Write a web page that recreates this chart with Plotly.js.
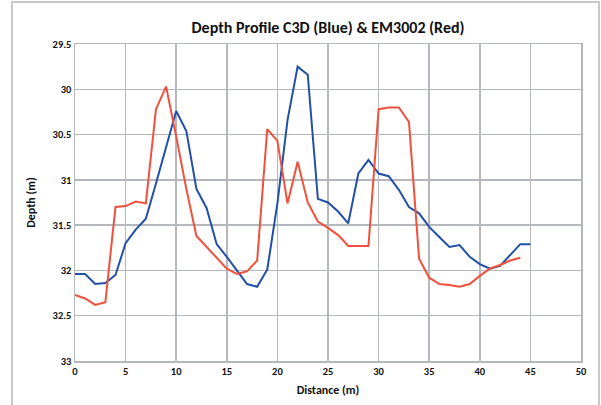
<!DOCTYPE html>
<html>
<head>
<meta charset="utf-8">
<script src="https://cdn.plot.ly/plotly-3.0.1.min.js"></script>
<style>
  html, body { margin: 0; padding: 0; background: #ffffff; }
  #wrap { position: relative; width: 601px; height: 405px; }
  #chart { width: 601px; height: 405px; }
  #frame { position: absolute; left: 11px; top: 1px; width: 589px; height: 410px;
           border: 2px solid #c8c8c8; pointer-events: none; box-sizing: border-box; }
</style>
</head>
<body>
<div id="wrap">
  <div id="chart"></div>
  <div id="frame"></div>
</div>
<script>
// Distance (m) for each sample
const distC3D = [0,1,2,3,4,5,6,7,8,9,10,11,12,13,14,15,16,17,18,19,20,21,22,23,24,25,26,27,28,29,30,31,32,33,34,35,36,37,38,39,40,41,42,43,44,45];
// C3D depth (blue)
const depthC3D = [32.04,32.04,32.15,32.14,32.05,31.70,31.55,31.43,31.04,30.63,30.24,30.46,31.10,31.31,31.71,31.85,32.00,32.15,32.18,31.99,31.26,30.34,29.75,29.84,31.21,31.25,31.35,31.48,30.93,30.78,30.93,30.96,31.11,31.30,31.37,31.52,31.63,31.74,31.72,31.85,31.93,31.98,31.95,31.83,31.71,31.71];

const distEM = [0,1,2,3,4,5,6,7,8,9,10,11,12,13,14,15,16,17,18,19,20,21,22,23,24,25,26,27,28,29,30,31,32,33,34,35,36,37,38,39,40,41,42,43,44];
// EM3002 depth (red)
const depthEM = [32.27,32.31,32.38,32.35,31.30,31.29,31.24,31.26,30.22,29.97,30.52,31.10,31.62,31.74,31.87,31.98,32.04,32.01,31.89,30.44,30.57,31.26,30.80,31.25,31.46,31.53,31.61,31.73,31.73,31.73,30.22,30.20,30.20,30.36,31.87,32.08,32.15,32.16,32.18,32.15,32.06,31.98,31.94,31.89,31.86];

const yTickVals = [29.5,30,30.5,31,31.5,32,32.5,33];
const yTickText = ["29.5","30","30.5","31","31.5","32","32.5","33"];
const xTickVals = [0,5,10,15,20,25,30,35,40,45,50];
const xTickText = ["0","5","10","15","20","25","30","35","40","45","50"];

const font = "Carlito, 'Open Sans', 'Liberation Sans', sans-serif";

const traces = [
  { x: distC3D, y: depthC3D, type: 'scatter', mode: 'lines', name: 'C3D',
    line: { color: '#2150a6', width: 2 } },
  { x: distEM, y: depthEM, type: 'scatter', mode: 'lines', name: 'EM3002',
    line: { color: '#f0503c', width: 2 } }
];

const axisCommon = {
  showgrid: true, gridcolor: '#b4b8bc', gridwidth: 1.5,
  showline: true, linecolor: '#b4b8bc', linewidth: 1.5, mirror: true,
  zeroline: false, ticks: '',
  tickfont: { family: font, size: 10.5, color: '#111', weight: 'bold' }
};

const layout = {
  width: 601, height: 405,
  paper_bgcolor: 'rgba(0,0,0,0)', plot_bgcolor: '#ffffff',
  margin: { l: 75, r: 20, t: 44, b: 44 },
  showlegend: false,
  title: { text: '<b>Depth Profile C3D (Blue) &amp; EM3002 (Red)</b>',
           font: { family: font, size: 16, color: '#111' },
           x: 0.5, xref: 'paper', xanchor: 'center', y: 0.945, yref: 'container' },
  xaxis: Object.assign({}, axisCommon, {
    range: [0, 50], tickvals: xTickVals, ticktext: xTickText,
    title: { text: '<b>Distance (m)</b>', font: { family: font, size: 12, color: '#111' }, standoff: 8 }
  }),
  yaxis: Object.assign({}, axisCommon, {
    range: [33, 29.5], tickvals: yTickVals, ticktext: yTickText,
    title: { text: '<b>Depth (m)</b>', font: { family: font, size: 12, color: '#111' }, standoff: 14 }
  })
};

Plotly.newPlot('chart', traces, layout, { displayModeBar: false, staticPlot: true });
</script>
</body>
</html>
